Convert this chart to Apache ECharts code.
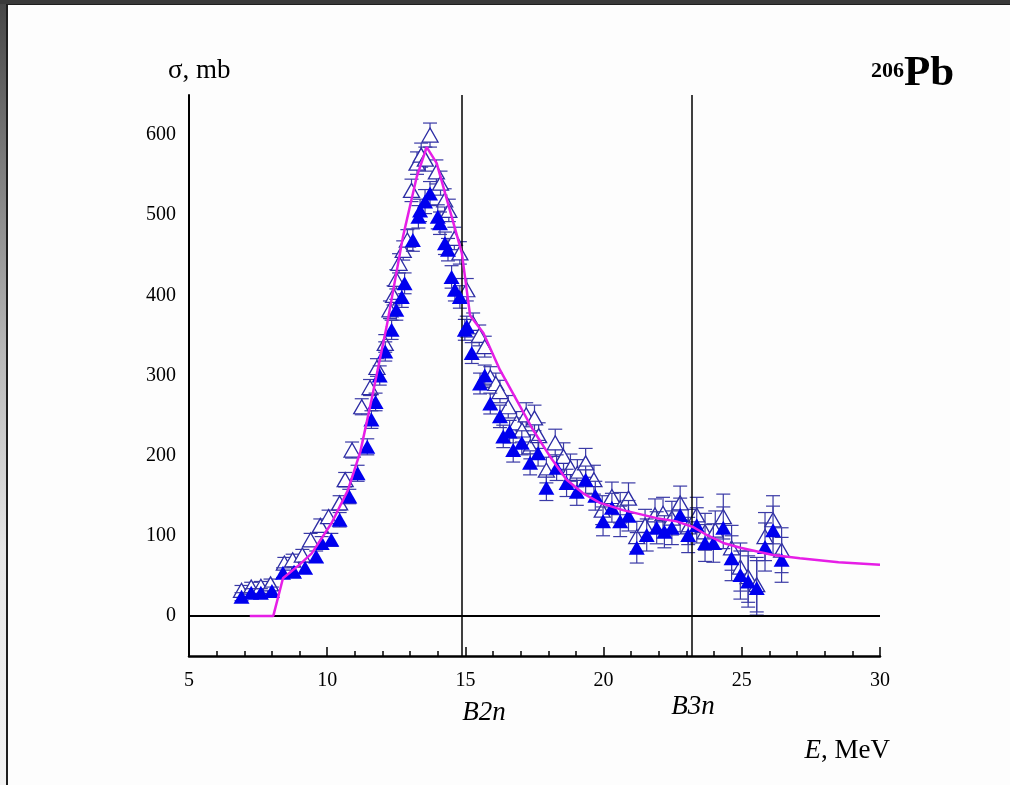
<!DOCTYPE html>
<html>
<head>
<meta charset="utf-8">
<script src="https://cdn.jsdelivr.net/npm/echarts@6/dist/echarts.min.js"></script>
<style>
  html, body { margin: 0; padding: 0; background: #ffffff; }
  #wrap { position: relative; width: 1010px; height: 785px; overflow: hidden; background: #fdfdfd; }
  #leftStrip { position: absolute; left: 0; top: 0; width: 7px; height: 785px;
    background: linear-gradient(to bottom, #454545 0%, #7a7a7a 20%, #b8b8b8 45%, #e6e6e6 70%, #f3f3f3 100%); }
  #leftLine { position: absolute; left: 6px; top: 4px; width: 2px; height: 781px; background: #1e1e1e; }
  #topBar { position: absolute; left: 0; top: 0; width: 1010px; height: 4px; background: #3a3a3a; }
  #topLine { position: absolute; left: 6px; top: 4px; width: 1004px; height: 1px; background: #1e1e1e; }
  #chart { position: absolute; left: 0; top: 0; width: 1010px; height: 785px; }
</style>
</head>
<body>
<div id="wrap">
  <div id="leftStrip"></div>
  <div id="topBar"></div>
  <div id="leftLine"></div>
  <div id="topLine"></div>
  <div id="chart"></div>
</div>
<script>
// ---------- DATA ----------
// open triangles
const energyOpen = [6.9,7.25,7.6,7.95,8.45,8.75,9.1,9.4,9.75,10.05,10.45,10.65,10.9,11.25,11.55,11.8,12.1,12.27,12.4,12.5,12.6,12.75,12.9,13.05,13.25,13.4,13.55,13.72,13.95,14.1,14.25,14.4,14.6,14.8,15.05,15.28,15.5,15.7,15.9,16.1,16.25,16.55,16.85,17.05,17.2,17.35,17.5,17.65,17.93,18.25,18.55,18.8,19.05,19.35,19.65,19.95,20.3,20.6,20.9,21.2,21.5,21.86,22.15,22.47,22.77,23.06,23.37,23.67,24.04,24.33,24.63,24.95,25.23,25.54,25.84,26.13,26.44];
const sigmaOpen = [32,36,37,40,66,70,76,95,113,124,141,170,207,261,285,310,340,382,400,420,440,456,469,531,565,575,570,600,554,540,519,506,471,453,407,365,350,336,298,290,280,261,241,232,251,211,247,225,182,216,199,185,178,191,170,132,149,135,147,99,113,126,128,122,141,111,126,105,107,124,85,61,49,39,99,120,82];
const errOpen = [6,6,6,6,7,7,7,8,8,8,9,9,10,10,10,11,11,11,12,12,12,12,13,14,14,15,15,15,15,15,14,14,14,14,14,13,13,13,13,13,14,14,14,15,15,15,16,16,16,17,17,17,17,18,18,18,18,19,19,19,20,20,20,21,21,22,22,23,24,28,28,30,32,34,30,30,28];

// filled triangles
const energyFilled = [6.9,7.25,7.6,8.0,8.4,8.8,9.2,9.6,9.8,10.15,10.45,10.8,11.1,11.45,11.6,11.75,11.9,12.1,12.33,12.5,12.7,12.8,13.1,13.3,13.36,13.54,13.72,14.0,14.08,14.26,14.37,14.5,14.62,14.8,14.98,15.05,15.23,15.53,15.7,15.9,16.25,16.37,16.6,16.73,17.04,17.34,17.63,17.93,18.3,18.66,19.03,19.35,19.7,19.98,20.3,20.6,20.9,21.2,21.56,21.92,22.2,22.47,22.77,23.06,23.37,23.67,23.97,24.33,24.63,24.95,25.23,25.54,25.84,26.13,26.44];
const sigmaFilled = [24,29,29,31,54,55,60,74,91,95,120,149,178,211,245,267,300,330,357,382,398,415,469,498,506,517,527,498,490,465,457,423,407,398,357,361,328,290,300,265,249,224,230,207,216,191,203,160,185,166,155,170,150,118,135,118,125,85,101,110,105,110,126,101,113,91,91,110,72,51,43,35,86,107,70];
const errFilled = [5,5,5,5,6,6,7,7,8,8,9,9,10,10,11,11,12,12,12,13,13,13,14,14,14,15,15,15,14,14,14,14,14,14,13,13,13,13,13,13,14,14,14,15,15,15,16,16,16,17,17,17,18,18,18,19,19,19,20,20,20,21,21,22,22,23,24,26,28,30,32,34,30,30,28];

// magenta curve
const curveE = [7.2,8.05,8.4,9.0,9.44,10.16,10.75,11.2,11.6,12.15,12.74,13.24,13.6,13.96,14.44,14.87,15.17,15.65,16.25,16.86,17.45,18.06,18.66,19.26,19.87,20.7,21.92,22.64,23.24,23.73,24.33,24.95,26.13,27.1,28.5,30];
const curveSigma = [0,0,47,64,78,116,157,205,269,361,473,548,585,565,506,453,375,353,307,269,232,199,170,153,141,132,122,118,111,101,91,85,76,72,67,64];

// thresholds
const thresholdNames = ['B2n', 'B3n'];
const thresholdE = [14.85, 23.2];

// axes
const xTicks = [5, 10, 15, 20, 25, 30];
const yTicks = [0, 100, 200, 300, 400, 500, 600];

// ---------- BUILD ----------
const zip3 = (a, b, c) => a.map((v, i) => [v, b[i], c[i]]);
const openData = zip3(energyOpen, sigmaOpen, errOpen);
const filledData = zip3(energyFilled, sigmaFilled, errFilled);
const curveData = curveE.map((v, i) => [v, curveSigma[i]]);

const FONT = '"Liberation Serif", "Times New Roman", serif';
const BAR_COLOR = '#3a3aa6';

function errorBarRenderer(color) {
  return function (params, api) {
    const x = api.value(0), y = api.value(1), e = api.value(2);
    const top = api.coord([x, y + e]);
    const bot = api.coord([x, y - e]);
    const hw = 7;
    const style = { stroke: color, lineWidth: 1.2 };
    return {
      type: 'group',
      children: [
        { type: 'line', shape: { x1: top[0], y1: top[1], x2: bot[0], y2: bot[1] }, style },
        { type: 'line', shape: { x1: top[0] - hw, y1: top[1], x2: top[0] + hw, y2: top[1] }, style },
        { type: 'line', shape: { x1: bot[0] - hw, y1: bot[1], x2: bot[0] + hw, y2: bot[1] }, style }
      ]
    };
  };
}

const chart = echarts.init(document.getElementById('chart'), null, { renderer: 'canvas' });

const option = {
  backgroundColor: 'transparent',
  animation: false,
  grid: { left: 189, right: 130, top: 95, bottom: 129, containLabel: false, outerBoundsMode: 'none' },
  xAxis: {
    type: 'value', min: 5, max: 30, interval: 5, splitNumber: 5,
    axisLine: { show: true, onZero: false, lineStyle: { color: '#000', width: 2.5 } },
    axisTick: { show: true, inside: true, length: 9, lineStyle: { color: '#000', width: 1.5 } },
    minorTick: { show: true, splitNumber: 5, length: 5, lineStyle: { color: '#000', width: 1.5 } },
    splitLine: { show: false },
    axisLabel: { color: '#000', fontFamily: FONT, fontSize: 20, margin: 15,
      customValues: xTicks }
  },
  yAxis: {
    type: 'value', min: -50, max: 650,
    axisLine: { show: true, onZero: false, lineStyle: { color: '#000', width: 2 } },
    axisTick: { show: false, customValues: yTicks },
    splitLine: { show: false },
    axisLabel: { color: '#000', fontFamily: FONT, fontSize: 20, margin: 13,
      customValues: yTicks }
  },
  graphic: [
    { type: 'text', left: 168, top: 57, style: { text: 'σ, mb', font: '27px ' + FONT, fill: '#000' } },
    { type: 'text', right: 106, top: 60, style: { text: '206', font: 'bold 22px ' + FONT, fill: '#000' } },
    { type: 'text', left: 904, top: 52, style: { text: 'Pb', font: 'bold 43px ' + FONT, fill: '#000' } },
    { type: 'text', x: 484, y: 713, style: { text: thresholdNames[0], font: 'italic 27px ' + FONT, fill: '#000', align: 'center', verticalAlign: 'middle' } },
    { type: 'text', x: 693, y: 707, style: { text: thresholdNames[1], font: 'italic 27px ' + FONT, fill: '#000', align: 'center', verticalAlign: 'middle' } },
    { type: 'text', x: 890, y: 751, style: {
        text: '{i|E}, MeV', font: '27px ' + FONT, fill: '#000', align: 'right', verticalAlign: 'middle',
        rich: { i: { fontStyle: 'italic', fontFamily: FONT, fontSize: 27 } } } }
  ],
  series: [
    {
      name: 'refLines', type: 'line', data: [], silent: true, z: 1,
      markLine: {
        silent: true, symbol: 'none', animation: false,
        label: { show: false },
        lineStyle: { color: '#000', type: 'solid', width: 1.5 },
        data: [
          { yAxis: 0, lineStyle: { width: 2.2, color: '#000' } },
          { xAxis: thresholdE[0] },
          { xAxis: thresholdE[1] }
        ]
      }
    },
    {
      name: 'openErr', type: 'custom', data: openData, z: 2, silent: true,
      encode: { x: 0, y: 1 },
      renderItem: errorBarRenderer(BAR_COLOR)
    },
    {
      name: 'open', type: 'scatter', data: openData, z: 3,
      symbol: 'triangle', symbolSize: [16, 14],
      itemStyle: { color: '#ffffff', borderColor: '#2c2ca4', borderWidth: 1.3, opacity: 1 }
    },
    {
      name: 'filledErr', type: 'custom', data: filledData, z: 4, silent: true,
      encode: { x: 0, y: 1 },
      renderItem: errorBarRenderer(BAR_COLOR)
    },
    {
      name: 'filled', type: 'scatter', data: filledData, z: 5,
      symbol: 'triangle', symbolSize: [16, 14],
      itemStyle: { color: '#0000ee', borderWidth: 0, opacity: 1 }
    },
    {
      name: 'curve', type: 'line', data: curveData, z: 6,
      showSymbol: false, smooth: false,
      lineStyle: { color: '#e61ee6', width: 2.5 }
    }
  ]
};
chart.setOption(option);
</script>
</body>
</html>
